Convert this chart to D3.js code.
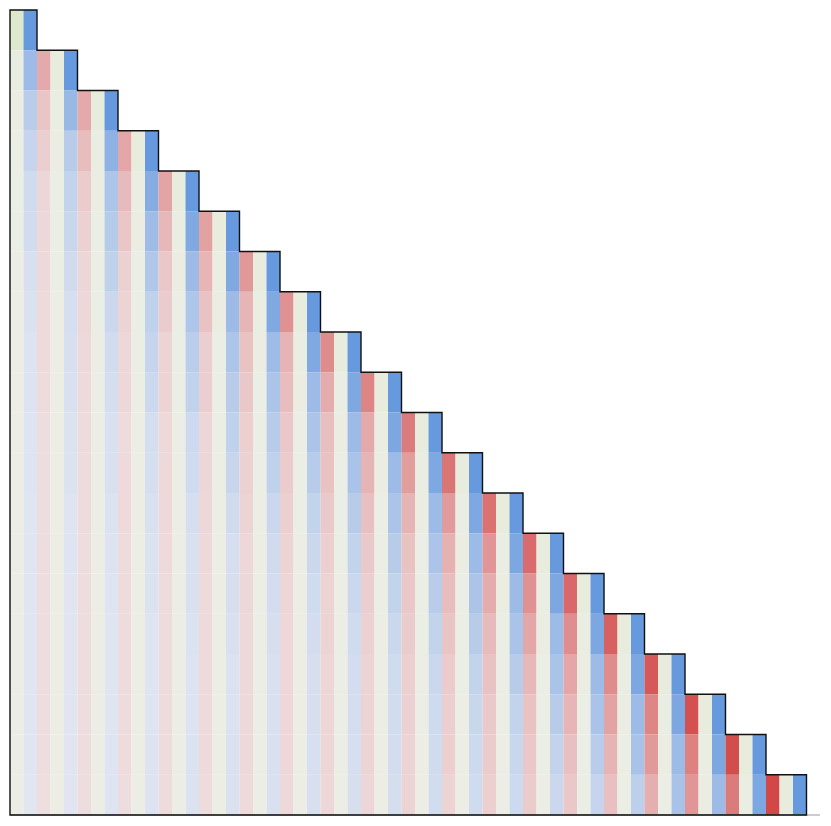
<!DOCTYPE html>
<html>
<head>
<meta charset="utf-8">
<script src="https://cdn.jsdelivr.net/npm/d3@7"></script>
<style>
  html, body { margin: 0; padding: 0; background: #ffffff; }
  svg { display: block; }
</style>
</head>
<body>
<svg id="chart" width="831" height="826"></svg>
<script>
// Row r holds groups g = 0..r ; each group = [neutral, blue, red] columns.
// Values are intensities (0 = faint, 1 = strongest), listed from left (g=0) to the diagonal.
const neutralRows = [
  [1],
  [.2,.35],
  [.1,.15,.35],
  [.05,.1,.15,.35],
  [.05,.05,.1,.15,.35],
  [.04,.05,.05,.1,.15,.35],
  [.03,.04,.05,.05,.1,.15,.35],
  [.03,.03,.04,.05,.05,.1,.15,.35],
  [.02,.03,.03,.04,.05,.05,.1,.15,.35],
  [.02,.02,.03,.03,.04,.05,.05,.1,.15,.35],
  [.02,.02,.02,.03,.03,.04,.05,.05,.1,.15,.35],
  [.02,.02,.02,.02,.03,.03,.04,.05,.05,.1,.15,.35],
  [.02,.02,.02,.02,.02,.03,.03,.04,.05,.05,.1,.15,.35],
  [.02,.02,.02,.02,.02,.02,.03,.03,.04,.05,.05,.1,.15,.35],
  [.02,.02,.02,.02,.02,.02,.02,.03,.03,.04,.05,.05,.1,.15,.35],
  [.02,.02,.02,.02,.02,.02,.02,.02,.03,.03,.04,.05,.05,.1,.15,.35],
  [.02,.02,.02,.02,.02,.02,.02,.02,.02,.03,.03,.04,.05,.05,.1,.15,.35],
  [.02,.02,.02,.02,.02,.02,.02,.02,.02,.02,.03,.03,.04,.05,.05,.1,.15,.35],
  [.02,.02,.02,.02,.02,.02,.02,.02,.02,.02,.02,.03,.03,.04,.05,.05,.1,.15,.35],
  [.02,.02,.02,.02,.02,.02,.02,.02,.02,.02,.02,.02,.03,.03,.04,.05,.05,.1,.15,.35]
];

const blueRows = [
  [1],
  [.57,1],
  [.35,.6,1],
  [.25,.36,.69,1],
  [.18,.28,.45,.75,1],
  [.16,.23,.38,.56,.8,1],
  [.11,.17,.3,.42,.57,.8,1],
  [.09,.13,.22,.3,.44,.57,.8,1],
  [.07,.11,.16,.25,.34,.45,.56,.8,1],
  [.07,.1,.14,.21,.29,.36,.46,.57,.81,1],
  [.06,.08,.1,.14,.2,.3,.36,.46,.58,.82,1],
  [.06,.08,.1,.13,.18,.24,.3,.37,.47,.58,.81,1],
  [.055,.065,.08,.1,.13,.17,.22,.28,.36,.46,.58,.81,1],
  [.05,.06,.07,.085,.1,.13,.17,.22,.28,.36,.46,.58,.82,1],
  [.05,.05,.06,.08,.1,.12,.15,.18,.22,.28,.35,.46,.58,.82,1],
  [.045,.05,.055,.065,.08,.1,.12,.15,.18,.22,.28,.36,.47,.58,.82,1],
  [.045,.05,.055,.06,.07,.085,.1,.12,.15,.18,.22,.28,.36,.47,.58,.82,1],
  [.045,.05,.055,.06,.07,.085,.1,.12,.14,.16,.19,.23,.28,.36,.47,.58,.82,1],
  [.045,.05,.06,.07,.08,.09,.1,.115,.13,.15,.17,.2,.23,.27,.35,.48,.58,.82,1],
  [.04,.05,.06,.07,.08,.09,.1,.11,.12,.14,.16,.18,.2,.22,.25,.33,.48,.58,.82,1]
];

const redRows = [
  [],
  [.37],
  [.19,.37],
  [.13,.24,.39],
  [.08,.15,.26,.40],
  [.07,.11,.18,.27,.42],
  [.06,.08,.11,.17,.29,.48],
  [.05,.07,.1,.14,.2,.29,.52],
  [.05,.06,.07,.1,.13,.21,.3,.56],
  [.04,.05,.07,.1,.13,.17,.24,.35,.61],
  [.03,.04,.045,.06,.08,.12,.17,.23,.37,.67],
  [.03,.04,.05,.06,.08,.11,.15,.21,.3,.45,.71],
  [.03,.04,.05,.06,.07,.09,.12,.16,.22,.3,.46,.73],
  [.03,.035,.04,.05,.06,.07,.09,.12,.16,.21,.32,.5,.77],
  [.03,.035,.04,.045,.055,.065,.08,.1,.13,.17,.24,.35,.52,.79],
  [.03,.035,.04,.045,.05,.06,.07,.09,.11,.14,.19,.26,.38,.55,.84],
  [.03,.035,.04,.045,.05,.06,.07,.08,.1,.12,.15,.2,.27,.39,.56,.89],
  [.03,.035,.04,.045,.05,.06,.07,.08,.09,.11,.13,.16,.21,.29,.41,.6,.94],
  [.03,.035,.04,.045,.05,.06,.07,.08,.09,.1,.12,.14,.17,.22,.3,.47,.63,.97],
  [.025,.03,.035,.04,.045,.05,.06,.07,.08,.09,.1,.12,.14,.17,.22,.33,.5,.67,1]
];

const rowIds = d3.range(neutralRows.length);       // 20 rows
const colIds = d3.range(neutralRows.length * 3);   // 60 column slots

const svg = d3.select("#chart");
const margin = {left: 10, top: 10, right: 11, bottom: 11};
const W = 831, H = 826;

const x = d3.scaleBand().domain(colIds).range([margin.left, W - margin.right]);
const y = d3.scaleBand().domain(rowIds).range([margin.top, H - margin.bottom]);

const neutralColor = d3.scaleLinear().domain([0, 1]).range(["#ECEEE6", "#DEE8CC"]);
const blueColor = d3.scaleLinear().domain([0, 1]).range(["#E6E9F2", "#6699DD"]);
const redColor = d3.scaleLinear().domain([0, 1]).range(["#EFE2E3", "#D24848"]);

const cells = [];
rowIds.forEach(r => {
  const lastCol = 3 * r + 1;
  for (let c = 0; c <= lastCol; c++) {
    const g = Math.floor(c / 3), t = c % 3;
    let v, color;
    if (t === 0) { v = neutralRows[r][g]; color = neutralColor(v); }
    else if (t === 1) { v = blueRows[r][g]; color = blueColor(v); }
    else { v = redRows[r][g]; color = redColor(v); }
    cells.push({r, c, v, color});
  }
});

svg.append("g").selectAll("rect")
  .data(cells)
  .join("rect")
  .attr("x", d => x(d.c))
  .attr("y", d => y(d.r))
  .attr("width", x.bandwidth() + 0.05)
  .attr("height", y.bandwidth() + 0.05)
  .attr("fill", d => d.color);

// bottom axis extension (light)
svg.append("line")
  .attr("x1", x.range()[0]).attr("x2", x.range()[1])
  .attr("y1", y.range()[1]).attr("y2", y.range()[1])
  .attr("stroke", "#999").attr("stroke-width", 1.2);

// staircase outline
const bw = x.bandwidth(), bh = y.bandwidth();
const x0 = x(0), yBottom = y.range()[1];
let path = `M${x0},${yBottom} L${x0},${y(0)}`;
rowIds.forEach(r => {
  const xe = x(3 * r + 1) + bw;
  path += ` L${xe},${y(r)} L${xe},${y(r) + bh}`;
});
path += ` L${x0},${yBottom} Z`;

svg.append("path")
  .attr("d", path)
  .attr("fill", "none")
  .attr("stroke", "#111")
  .attr("stroke-width", 1.4)
  .attr("stroke-linejoin", "miter");
</script>
</body>
</html>
